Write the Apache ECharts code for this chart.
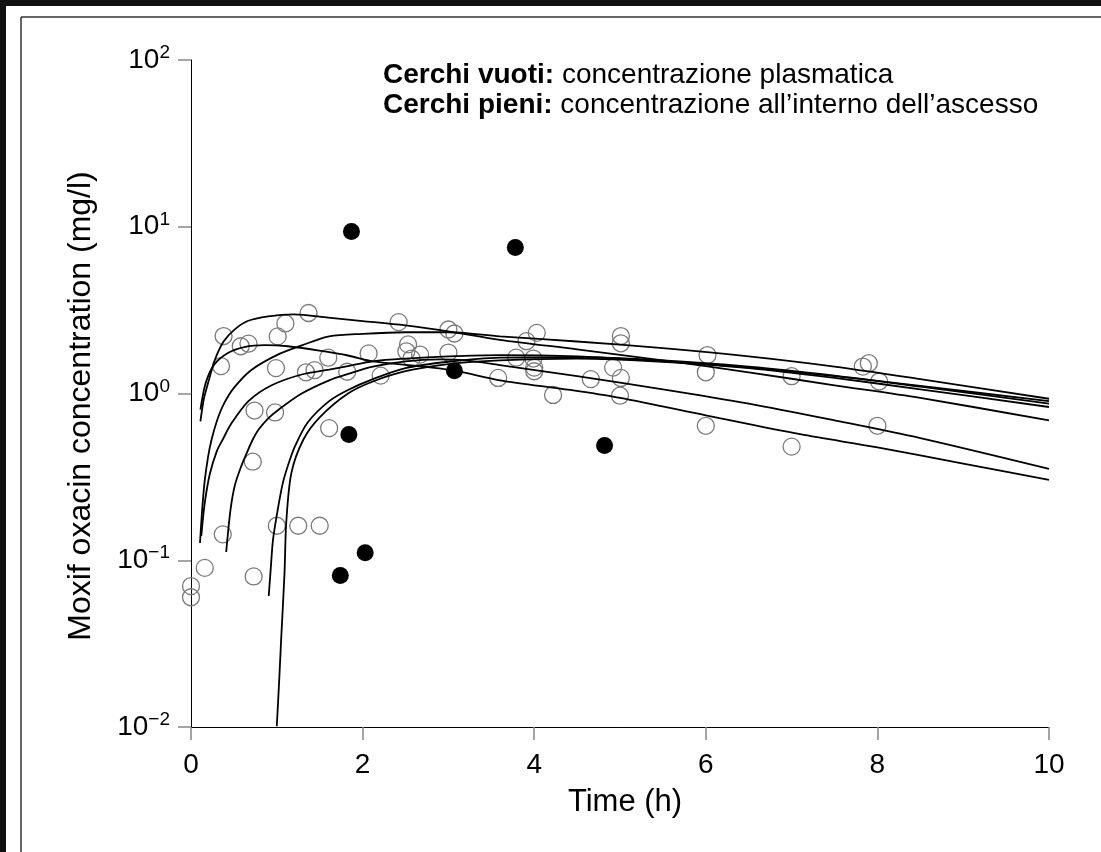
<!DOCTYPE html>
<html>
<head>
<meta charset="utf-8">
<script src="https://cdn.jsdelivr.net/npm/echarts@6/dist/echarts.min.js"></script>
<style>
  html, body { margin: 0; padding: 0; background: #fff; }
  #chart { width: 1101px; height: 852px; }
</style>
</head>
<body>
<div id="chart"></div>
<script>
// ---- data (time in h, concentration in mg/l) ----
const xTicks = [0, 2, 4, 6, 8, 10];
const yTickExponents = [-2, -1, 0, 1, 2];

const plasmaPoints = [
  [0.0, 0.070], [0.0, 0.060], [0.16, 0.090], [0.37, 0.143], [0.72, 0.39], [0.73, 0.080],
  [1.0, 0.161], [1.25, 0.161], [1.5, 0.161], [0.38, 2.21], [0.35, 1.46], [0.58, 1.92],
  [0.67, 1.99], [1.10, 2.63], [1.37, 3.04], [1.01, 2.20], [0.99, 1.42], [0.74, 0.79],
  [0.98, 0.77], [1.34, 1.34], [1.44, 1.38], [1.60, 1.64], [1.61, 0.62], [2.07, 1.74],
  [1.82, 1.35], [2.21, 1.28], [2.42, 2.68], [2.53, 1.97], [2.51, 1.79], [2.67, 1.71],
  [2.57, 1.62], [3.0, 2.42], [3.07, 2.29], [3.0, 1.76], [3.58, 1.24], [4.03, 2.31],
  [3.91, 2.06], [3.79, 1.64], [3.99, 1.62], [4.0, 1.43], [4.0, 1.36], [4.22, 0.98],
  [4.66, 1.22], [4.92, 1.43], [5.01, 2.21], [5.01, 2.0], [5.01, 1.24], [5.0, 0.97],
  [6.02, 1.70], [6.0, 1.34], [6.0, 0.64], [7.0, 1.27], [7.0, 0.48], [7.83, 1.45],
  [7.9, 1.52], [8.02, 1.18], [8.0, 0.64]
];

const abscessPoints = [
  [1.87, 9.37], [3.78, 7.5], [3.07, 1.37], [1.84, 0.567], [4.82, 0.488], [2.03, 0.111], [1.74, 0.081]
];

const curveA = [[0.11,0.68],[0.15,0.93],[0.2,1.16],[0.28,1.6],[0.38,2.05],[0.5,2.4],[0.66,2.72],[0.9,2.9],[1.2,2.98],[1.6,2.85],[2.0,2.72],[2.5,2.56],[3.0,2.36],[3.6,2.1],[4.5,1.84],[5.5,1.58],[6.5,1.34],[7.5,1.12],[8.5,0.94],[10,0.69]];
const curveB = [[0.11,0.8],[0.17,1.15],[0.27,1.49],[0.43,1.75],[0.62,1.9],[0.86,1.95],[1.13,1.92],[1.52,1.8],[1.83,1.69],[2.12,1.56],[2.6,1.47],[3.07,1.37],[3.6,1.2],[4.42,1.05],[5,0.94],[6,0.74],[7.1,0.57],[8,0.475],[9,0.38],[10,0.303]];
const curveC = [[0.105,0.127],[0.13,0.2],[0.16,0.3],[0.2,0.42],[0.24,0.53],[0.3,0.68],[0.38,0.86],[0.5,1.08],[0.7,1.38],[1.0,1.7],[1.3,1.95],[1.61,2.2],[2.0,2.28],[2.5,2.33],[3.0,2.33],[3.6,2.2],[4.5,2.05],[5.5,1.87],[6.5,1.67],[7.5,1.45],[8.5,1.22],[10,0.93]];
const curveD = [[0.12,0.14],[0.16,0.22],[0.22,0.33],[0.3,0.45],[0.37,0.53],[0.47,0.66],[0.67,0.9],[0.94,1.12],[1.29,1.3],[1.61,1.39],[1.83,1.46],[2.12,1.56],[2.5,1.62],[3.0,1.67],[3.6,1.7],[4.5,1.67],[5.5,1.56],[6.5,1.43],[7.5,1.27],[8.5,1.11],[10,0.9]];
const curveE = [[0.41,0.112],[0.46,0.2],[0.51,0.28],[0.58,0.36],[0.65,0.44],[0.72,0.53],[0.79,0.61],[0.9,0.71],[1.02,0.8],[1.29,1.0],[1.61,1.2],[1.83,1.31],[2.12,1.45],[2.5,1.56],[2.9,1.6],[3.2,1.58],[3.6,1.48],[4.5,1.27],[5.5,1.06],[6.5,0.87],[7.5,0.69],[8.5,0.54],[10,0.353]];
const curveF = [[0.906,0.061],[0.93,0.09],[0.956,0.133],[1.01,0.2],[1.07,0.29],[1.13,0.37],[1.21,0.48],[1.36,0.67],[1.61,0.9],[1.83,1.05],[2.12,1.22],[2.5,1.42],[3.0,1.55],[3.6,1.64],[4.5,1.65],[5.5,1.58],[6.5,1.45],[7.5,1.28],[8.5,1.1],[10,0.87]];
const curveG = [[1.0,0.0101],[1.03,0.02],[1.05,0.033],[1.09,0.084],[1.11,0.168],[1.17,0.334],[1.31,0.53],[1.5,0.72],[1.83,1.0],[2.12,1.18],[2.5,1.36],[3.0,1.5],[3.6,1.58],[4.5,1.62],[5.5,1.55],[6.5,1.42],[7.5,1.24],[8.5,1.06],[10,0.83]];

const curves = [curveA, curveB, curveC, curveD, curveE, curveF, curveG];

// ---- chart ----
const FONT = '"Liberation Sans", Arial, sans-serif';
const chart = echarts.init(document.getElementById('chart'), null, { renderer: 'canvas' });

const lineSeries = curves.map(function (c) {
  return {
    type: 'line', data: c, showSymbol: false, smooth: 0.3, z: 3,
    lineStyle: { color: '#000', width: 1.8 }, silent: true
  };
});

const option = {
  backgroundColor: '#fff',
  animation: false,
  title: {
    left: 378, top: 55,
    text: '{b|Cerchi vuoti:} concentrazione plasmatica\n{b|Cerchi pieni:} concentrazione all\u2019interno dell\u2019ascesso',
    textStyle: {
      fontFamily: FONT, fontSize: 28, fontWeight: 'normal', color: '#000', lineHeight: 30,
      rich: { b: { fontFamily: FONT, fontSize: 28, fontWeight: 'bold', color: '#000', lineHeight: 30 } }
    }
  },
  graphic: [
    { type: 'rect', shape: { x: 0, y: 0, width: 1101, height: 6 }, style: { fill: '#111' }, silent: true },
    { type: 'rect', shape: { x: 0, y: 0, width: 6, height: 852 }, style: { fill: '#111' }, silent: true },
    { type: 'line', shape: { x1: 21, y1: 17, x2: 1101, y2: 17 }, style: { stroke: '#333', lineWidth: 1.5 }, silent: true },
    { type: 'line', shape: { x1: 21, y1: 17, x2: 21, y2: 852 }, style: { stroke: '#333', lineWidth: 1.5 }, silent: true }
  ],
  grid: { left: 191, right: 52, top: 60, bottom: 125, containLabel: false },
  xAxis: {
    type: 'value', min: xTicks[0], max: xTicks[xTicks.length - 1], interval: 2,
    name: 'Time (h)', nameLocation: 'middle', nameGap: 60,
    nameTextStyle: { fontFamily: FONT, fontSize: 31, color: '#000', padding: [0, 0, 0, 10] },
    axisLine: { lineStyle: { color: '#000', width: 1 } },
    axisTick: { length: 13, lineStyle: { color: '#888', width: 1.5 } },
    axisLabel: { fontFamily: FONT, fontSize: 28, color: '#000', margin: 24 },
    splitLine: { show: false }
  },
  yAxis: {
    type: 'log', logBase: 10,
    min: Math.pow(10, yTickExponents[0]), max: Math.pow(10, yTickExponents[yTickExponents.length - 1]),
    name: 'Moxif oxacin concentration (mg/l)', nameLocation: 'middle', nameGap: 94,
    nameTextStyle: { fontFamily: FONT, fontSize: 32, color: '#000', padding: [0, 25, 0, 0] },
    axisLine: { show: true, lineStyle: { color: '#000', width: 1 } },
    axisTick: { show: true, length: 13, lineStyle: { color: '#888', width: 1.5 } },
    minorTick: { show: false },
    axisLabel: {
      margin: 21,
      formatter: function (v) {
        const e = Math.round(Math.log10(v));
        return '{b|10}{s|' + (e < 0 ? '\u2212' + (-e) : e) + '}';
      },
      rich: {
        b: { fontFamily: FONT, fontSize: 28, color: '#000' },
        s: { fontFamily: FONT, fontSize: 19, color: '#000', padding: [0, 0, 14, 0] }
      }
    },
    splitLine: { show: false }
  },
  series: [
    {
      type: 'scatter', data: plasmaPoints, symbol: 'circle', symbolSize: 17, z: 2,
      itemStyle: { color: 'rgba(0,0,0,0)', borderColor: '#7a7a7a', borderWidth: 1.3, opacity: 1 }
    }
  ].concat(lineSeries).concat([
    {
      type: 'scatter', data: abscessPoints, symbol: 'circle', symbolSize: 17, z: 4,
      itemStyle: { color: '#000', opacity: 1 }
    }
  ])
};
chart.setOption(option);
</script>
</body>
</html>
